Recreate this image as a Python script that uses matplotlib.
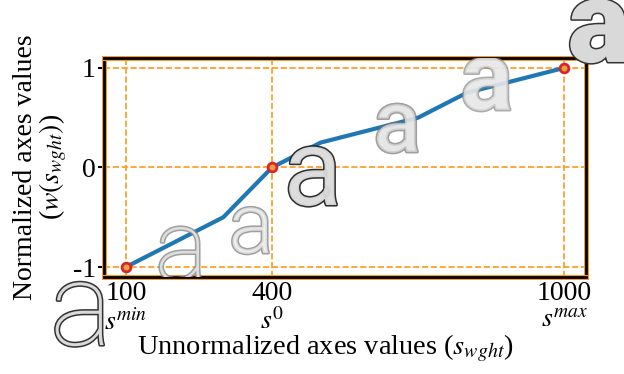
import matplotlib
matplotlib.use('Agg')
import matplotlib.pyplot as plt
import matplotlib.patheffects as pe

# data
x_vals = [100, 300, 400, 500, 700, 800, 1000]
y_vals = [-1, -0.5, 0, 0.25, 0.5, 0.75, 1]
key_x = [100, 400, 1000]
key_y = [-1, 0, 1]
x_tick_labels = ['100\n$s^{min}$', '400\n$s^{0}$', '1000\n$s^{max}$']
y_ticks = [-1, 0, 1]
y_tick_labels = ['-1', '0', '1']

# decorative glyphs: (x, y baseline, fontsize, weight, fill, edge, alpha, clip)
glyphs = [
    (8, -1.784, 84, 100, '#d9d9d9', '#333333', 1.0, False),
    (214, -1.13, 71, 100, '#eeeeee', '#888888', 0.8, True),
    (357, -0.859, 61, 300, '#eeeeee', '#888888', 0.8, True),
    (484, -0.377, 78, 400, '#dddddd', '#222222', 0.95, True),
    (657, 0.156, 64, 500, '#e4e4e4', '#777777', 0.7, True),
    (841, 0.578, 71, 700, '#e8e8e8', '#888888', 0.7, True),
    (1071, 1.06, 84, 900, '#d9d9d9', '#333333', 1.0, False),
]

plt.rcParams['font.family'] = ['Liberation Serif', 'DejaVu Serif']
plt.rcParams['mathtext.fontset'] = 'stix'

fig = plt.figure(figsize=(6.24, 3.74), dpi=100)
ax = fig.add_axes([0.1667, 0.2594, 0.7724, 0.5856])

ax.plot(x_vals, y_vals, color='#1f77b4', lw=3, zorder=3)
ax.scatter(key_x, key_y, s=40, facecolor='#e8a040', edgecolor='#d62728',
           linewidth=2, zorder=4)

for gx, gy, fs, w, fc, ec, a, clip in glyphs:
    t = ax.text(gx, gy, 'a', fontsize=fs, fontweight=w, family='Roboto',
                ha='center', va='baseline', color=fc, alpha=a,
                clip_on=clip, zorder=5)
    t.set_path_effects([pe.Stroke(linewidth=2.2, foreground=ec), pe.Normal()])

ax.set_xlim(55, 1045)
ax.set_ylim(-1.1, 1.1)
ax.set_xticks(key_x)
ax.set_xticklabels(x_tick_labels, fontsize=20, linespacing=1.1)
ax.set_yticks(y_ticks)
ax.set_yticklabels(y_tick_labels, fontsize=20)
ax.tick_params(axis='x', length=0, pad=3)
ax.tick_params(axis='y', length=4, width=1.5, pad=2)
ax.grid(True, color='#ff9a1a', linestyle='--', lw=1.2)
ax.set_axisbelow(True)

for sp in ax.spines.values():
    sp.set_linewidth(2)
    sp.set_color('black')
    sp.set_path_effects([pe.Stroke(linewidth=3.6, foreground='#f39a2b'), pe.Normal()])

ax.set_xlabel('Unnormalized axes values ($s_{wght}$)', fontsize=20.4)
ax.xaxis.set_label_coords(0.459, -0.255)
ax.set_ylabel('Normalized axes values\n($w(s_{wght})$)', fontsize=20,
              linespacing=1.0)
ax.yaxis.set_label_coords(-0.072, 0.5)

fig.savefig('out.png', dpi=100)
